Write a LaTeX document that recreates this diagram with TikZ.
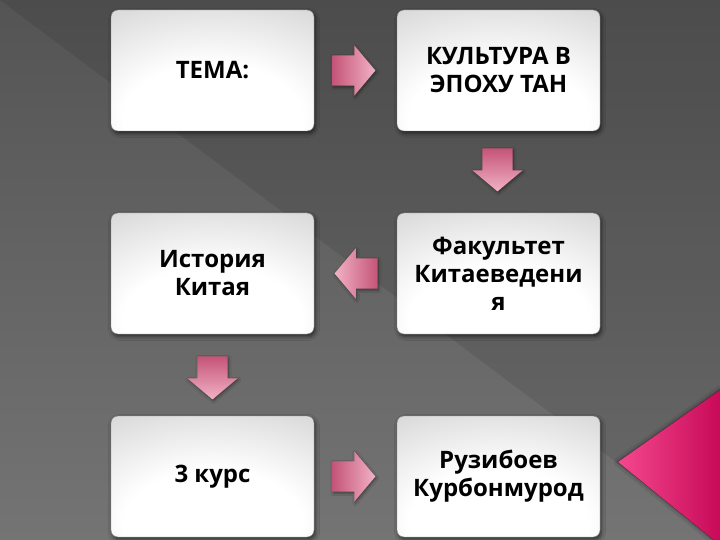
\documentclass[tikz,border=0pt]{standalone}
\usepackage{fontspec}
\setmainfont{Open Sans}
\usetikzlibrary{shapes.arrows,shadows.blur,calc}
\definecolor{bgtop}{HTML}{545454}
\definecolor{bgbot}{HTML}{747474}
\definecolor{boxmid}{HTML}{D6D6D6}
\definecolor{boxside}{HTML}{BEBEBE}
\definecolor{boxedge}{HTML}{A4A4A4}
\definecolor{arrdark}{HTML}{C45478}
\definecolor{arrlight}{HTML}{F2B2C6}
\definecolor{tritip}{HTML}{F4488E}
\definecolor{triback}{HTML}{C80A58}
\pgfdeclareradialshading{boxsh}{\pgfpoint{0bp}{-24bp}}{color(0bp)=(white); color(22bp)=(white); color(48bp)=(boxmid); color(68bp)=(boxside); color(95bp)=(boxedge); color(110bp)=(boxedge)}
\tikzset{
  box/.style={rectangle, rounded corners=7pt, minimum width=203pt, minimum height=121pt,
    shading=boxsh, draw=boxedge!80!black, line width=0.4pt, align=center,
    font=\fontsize{24}{28}\selectfont\bfseries, text=black,
    blur shadow={shadow xshift=1.5pt, shadow yshift=-2.5pt, shadow blur radius=4pt, shadow opacity=60}},
  blockarrow/.style={single arrow, draw=none, minimum height=43pt, minimum width=50pt,
    single arrow head extend=10pt, single arrow head indent=0pt, single arrow tip angle=100,
    anchor=tail,
    blur shadow={shadow xshift=1pt, shadow yshift=-1.5pt, shadow blur radius=2.5pt, shadow opacity=45}},
  rightarr/.style={blockarrow, inner xsep=11pt, inner ysep=15pt, shape border rotate=0, left color=arrdark, right color=arrlight},
  leftarr/.style={blockarrow, inner xsep=11pt, inner ysep=15pt, shape border rotate=180, right color=arrdark, left color=arrlight},
  downarr/.style={blockarrow, inner xsep=15pt, inner ysep=11pt, shape border rotate=270, top color=arrdark, bottom color=arrlight},
}
\begin{document}
\begin{tikzpicture}[x=1pt,y=-1pt]
\useasboundingbox (0,0) rectangle (720,540);
% background
\fill[top color=bgtop, bottom color=bgbot] (0,0) rectangle (720,540);
\fill[black, opacity=0.09] (0,0) -- (720,0) -- (720,540) -- cycle;
% pink triangle
\fill[left color=tritip, right color=triback,
  blur shadow={shadow xshift=0pt, shadow yshift=0pt, shadow blur radius=4pt, shadow opacity=60}]
  (618,462) -- (720,390) -- (720,545) -- cycle;
% boxes
\node[box] (b1) at (212.5,70.5) {ТЕМА:};
\node[box] (b2) at (498.5,70.5) {КУЛЬТУРА В\\ЭПОХУ ТАН};
\node[box] (b3) at (212.5,273.5) {История\\Китая};
\node[box] (b4) at (498.5,273.5) {Факультет\\Китаеведени\\я};
\node[box] (b5) at (212.5,476.5) {3 курс};
\node[box] (b6) at (498.5,476.5) {Рузибоев\\Курбонмурод};
% arrows
\node[rightarr] (a1) at ($(b1.east)+(18,0)$) {};
\node[downarr]  (a2) at ($(b2.south)+(-1,17)$) {};
\node[leftarr]  (a3) at ($(b4.west)+(-19,0)$) {};
\node[downarr]  (a4) at ($(b3.south)+(0,22)$) {};
\node[rightarr] (a5) at ($(b5.east)+(18,0)$) {};
\end{tikzpicture}
\end{document}
